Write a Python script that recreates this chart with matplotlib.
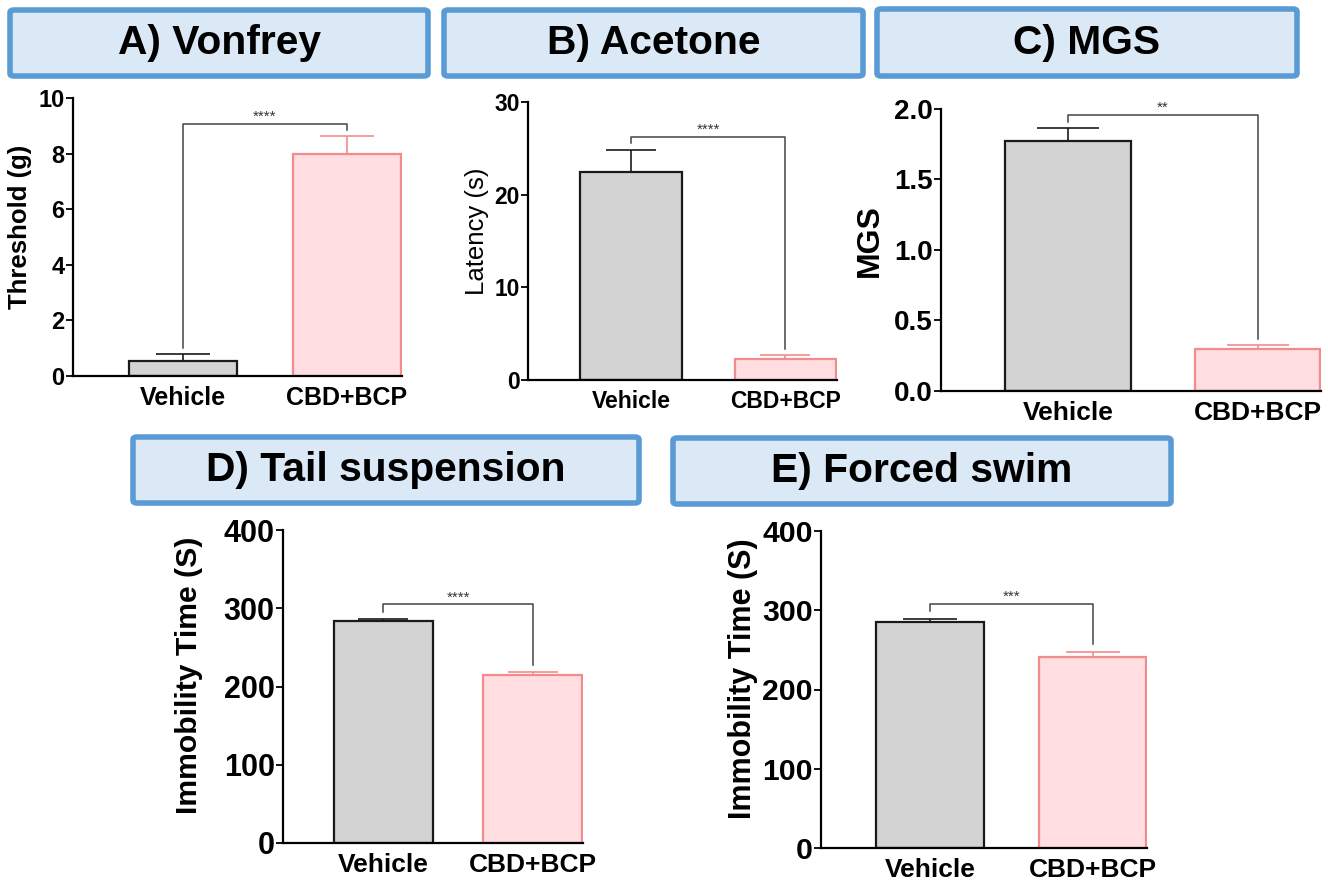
import numpy as np
import matplotlib.pyplot as plt
from matplotlib.patches import FancyBboxPatch

plt.rcParams['font.family'] = ['Liberation Sans', 'DejaVu Sans']

W, H = 1328, 881

groups = ["Vehicle", "CBD+BCP"]

# panel data: means and SEM (upper error only)
vonfrey_mean = [0.55, 8.0]
vonfrey_err = [0.23, 0.65]
acetone_mean = [22.4, 2.3]
acetone_err = [2.4, 0.4]
mgs_mean = [1.77, 0.30]
mgs_err = [0.095, 0.027]
tail_mean = [284, 215]
tail_err = [2.5, 3.5]
swim_mean = [285, 241]
swim_err = [4.5, 6.5]

# significance brackets: (bracket height, left leg bottom, right leg bottom, stars)
vonfrey_sig = (9.08, 1.0, 8.85, "****")
acetone_sig = (26.2, 25.6, 3.3, "****")
mgs_sig = (1.96, 1.91, 0.37, "**")
tail_sig = (305, 295, 227, "****")
swim_sig = (308, 299, 257, "***")

fig = plt.figure(figsize=(W / 100, H / 100), dpi=100)


def rect(x0, x1, y0, y1):
    return [x0 / W, 1 - y1 / H, (x1 - x0) / W, (y1 - y0) / H]


def title_box(x0, x1, y0, y1, text):
    r = rect(x0, x1, y0, y1)
    box = FancyBboxPatch((r[0], r[1]), r[2], r[3], boxstyle="round,pad=0,rounding_size=0.003",
                         transform=fig.transFigure, facecolor="#dbe8f5", edgecolor="#5b9bd5",
                         linewidth=4)
    fig.add_artist(box)
    fig.text(r[0] + r[2] / 2, r[1] + r[3] / 2, text, ha="center", va="center",
             fontsize=29.3, fontweight="bold")


def panel(box, mean, err, sig, ylim, yticks, ylabel, ylab_x, tick_fs, xtick_fs,
          ylab_fs, ylab_weight="bold", yfmt="{:g}"):
    ax = fig.add_axes(rect(*box))
    x = np.arange(len(groups))
    fills = ["#d3d3d3", "#ffdde0"]
    edges = ["#1a1a1a", "#f28b8b"]
    bar_px = (box[1] - box[0]) * 0.66 / 2.005
    cap = bar_px / 4 * 0.72
    for i in range(len(groups)):
        ax.bar(x[i], mean[i], width=0.66, color=fills[i], edgecolor=edges[i], linewidth=1.6, zorder=2)
        ax.errorbar(x[i], mean[i], yerr=[[0], [err[i]]], color=edges[i], capsize=cap,
                    elinewidth=1.2, capthick=1.2, zorder=3)
    top, l_bot, r_bot, stars = sig
    ax.plot([0, 0, 1, 1], [l_bot, top, top, r_bot], color="#444444", linewidth=1.1, zorder=1)
    ax.text(0.5, top, stars, ha="center", va="bottom", fontsize=11, color="#333333")
    ax.set_xlim(-0.67, 1.335)
    ax.set_ylim(*ylim)
    ax.set_yticks(yticks)
    ax.set_yticklabels([yfmt.format(v) for v in yticks])
    ax.set_xticks(x)
    ax.set_xticklabels(groups)
    for s in ["top", "right"]:
        ax.spines[s].set_visible(False)
    for s in ["left", "bottom"]:
        ax.spines[s].set_linewidth(1.6)
    ax.tick_params(axis="y", length=5, width=1.3, labelsize=tick_fs, pad=1)
    ax.tick_params(axis="x", length=0, labelsize=xtick_fs, pad=7)
    for lab in ax.get_xticklabels() + ax.get_yticklabels():
        lab.set_fontweight("bold")
    ax.set_ylabel(ylabel, fontsize=ylab_fs, fontweight=ylab_weight)
    ax.yaxis.set_label_coords((ylab_x - box[0]) / (box[1] - box[0]), 0.535)
    return ax


title_box(10, 428, 10, 76, "A) Vonfrey")
title_box(444, 863, 10, 76, "B) Acetone")
title_box(877, 1297, 9, 76, "C) MGS")
title_box(133, 639, 437, 503, "D) Tail suspension")
title_box(673, 1171, 438, 504, "E) Forced swim")

panel((73, 402, 98, 376), vonfrey_mean, vonfrey_err, vonfrey_sig, (0, 10), [0, 2, 4, 6, 8, 10],
      "Threshold (g)", 32, 17, 18, 18.5)
panel((528, 837, 102, 380), acetone_mean, acetone_err, acetone_sig, (0, 30), [0, 10, 20, 30],
      "Latency (s)", 489, 16.4, 16.5, 18.5, ylab_weight="medium")
panel((941, 1321, 109, 391), mgs_mean, mgs_err, mgs_sig, (0, 2), [0, 0.5, 1.0, 1.5, 2.0],
      "MGS", 885, 20, 19, 23, yfmt="{:.1f}")
panel((283, 583, 530, 843), tail_mean, tail_err, tail_sig, (0, 400), [0, 100, 200, 300, 400],
      "Immobility Time (S)", 203, 22, 19, 21.7)
panel((821, 1147, 531, 848), swim_mean, swim_err, swim_sig, (0, 400), [0, 100, 200, 300, 400],
      "Immobility Time (S)", 758, 21.7, 19, 22)

fig.savefig("out.png", dpi=100)
